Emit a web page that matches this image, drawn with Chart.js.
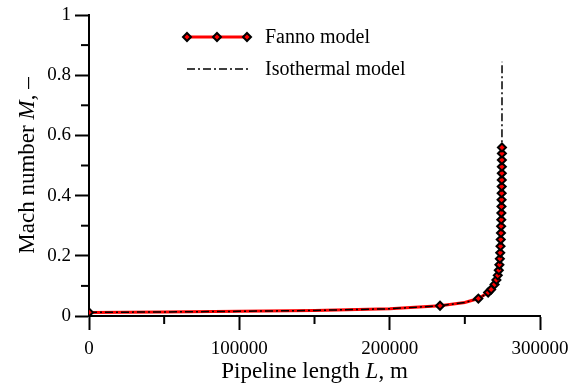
<!DOCTYPE html>
<html>
<head>
<meta charset="utf-8">
<script src="https://cdn.jsdelivr.net/npm/chart.js@4/dist/chart.umd.min.js"></script>
<style>
    html, body { margin: 0; padding: 0; background: #fff; }
</style>
</head>
<body>
<canvas id="chart" width="571" height="392"></canvas>
<script>
// Datos: longitud L (m) y numero de Mach M
const fannoLineL = [0, 50000, 100000, 150000, 200000, 233500, 250000, 259000, 265500, 267500, 269800, 271000, 271900, 272600, 273000, 273300, 273550, 273750, 273900, 274050, 274150, 274250, 274320, 274390, 274450, 274500, 274540, 274580, 274610, 274640, 274660, 274680, 274700];
const fannoLineM = [0.012, 0.0135, 0.0155, 0.0185, 0.024, 0.034, 0.045, 0.058, 0.078, 0.088, 0.105, 0.12, 0.135, 0.152, 0.17, 0.19, 0.21, 0.232, 0.254, 0.276, 0.298, 0.32, 0.342, 0.364, 0.386, 0.408, 0.43, 0.452, 0.474, 0.496, 0.518, 0.54, 0.56];
const fannoPointL = [0, 233500, 259000, 265500, 267500, 269800, 271000, 271900, 272600, 273000, 273300, 273550, 273750, 273900, 274050, 274150, 274250, 274320, 274390, 274450, 274500, 274540, 274580, 274610, 274640, 274660, 274680, 274700];
const fannoPointM = [0.012, 0.034, 0.058, 0.078, 0.088, 0.105, 0.12, 0.135, 0.152, 0.17, 0.19, 0.21, 0.232, 0.254, 0.276, 0.298, 0.32, 0.342, 0.364, 0.386, 0.408, 0.43, 0.452, 0.474, 0.496, 0.518, 0.54, 0.56];
const isoL = [0, 50000, 100000, 150000, 200000, 233500, 250000, 259000, 264000, 267500, 270000, 271800, 273000, 273800, 274300, 274550, 274700, 274750];
const isoM = [0.012, 0.0135, 0.0155, 0.0185, 0.024, 0.034, 0.045, 0.058, 0.072, 0.088, 0.108, 0.135, 0.17, 0.22, 0.3, 0.42, 0.6, 0.845];

// Marcas de los ejes
const xTicks = [0, 100000, 200000, 300000];
const xMinor = [50000, 150000, 250000];
const yTicks = [0, 0.2, 0.4, 0.6, 0.8, 1];
const yTickLabels = ['0', '0.2', '0.4', '0.6', '0.8', '1'];
const yMinor = [0.1, 0.3, 0.5, 0.7, 0.9];
const legendLabels = ['Fanno model', 'Isothermal model'];

const FONT = '"Liberation Serif", "Times New Roman", serif';
const toXY = (xs, ys) => xs.map((v, i) => ({ x: v, y: ys[i] }));

// Dibuja un rombo como el marcador de la serie Fanno
const diamond = (ctx, x, y, r) => {
    ctx.beginPath();
    ctx.moveTo(x, y - r);
    ctx.lineTo(x + r, y);
    ctx.lineTo(x, y + r);
    ctx.lineTo(x - r, y);
    ctx.closePath();
    ctx.fillStyle = '#ff0000';
    ctx.fill();
    ctx.lineWidth = 2;
    ctx.strokeStyle = '#000';
    ctx.stroke();
};

// Dibuja texto con partes en cursiva
const drawParts = (ctx, parts, size) => {
    const widths = parts.map(([t, it]) => {
        ctx.font = `${it ? 'italic ' : ''}${size}px ${FONT}`;
        return ctx.measureText(t).width;
    });
    const total = widths.reduce((a, b) => a + b, 0);
    let pos = -total / 2;
    parts.forEach(([t, it], i) => {
        ctx.font = `${it ? 'italic ' : ''}${size}px ${FONT}`;
        ctx.fillText(t, pos, 0);
        pos += widths[i];
    });
};

// Plugin: marcas menores, titulos de ejes y leyenda
const extras = {
    id: 'extras',
    afterDraw(chart) {
        const { ctx, scales: { x, y } } = chart;
        ctx.save();
        ctx.strokeStyle = '#000';
        ctx.lineWidth = 2;
        xMinor.forEach((v) => {
            const px = x.getPixelForValue(v);
            ctx.beginPath();
            ctx.moveTo(px, y.bottom);
            ctx.lineTo(px, y.bottom + 8);
            ctx.stroke();
        });
        yMinor.forEach((v) => {
            const py = y.getPixelForValue(v);
            ctx.beginPath();
            ctx.moveTo(x.left, py);
            ctx.lineTo(x.left - 8, py);
            ctx.stroke();
        });

        // Titulos
        ctx.fillStyle = '#000';
        ctx.textAlign = 'left';
        ctx.textBaseline = 'alphabetic';
        ctx.save();
        ctx.translate((x.left + x.right) / 2, 378);
        drawParts(ctx, [['Pipeline length ', false], ['L', true], [', m', false]], 23);
        ctx.restore();
        ctx.save();
        ctx.translate(34, (y.top + y.bottom) / 2);
        ctx.rotate(-Math.PI / 2);
        drawParts(ctx, [['Mach number ', false], ['M', true], [', \u2013', false]], 23);
        ctx.restore();

        // Leyenda
        ctx.lineWidth = 3;
        ctx.strokeStyle = '#ff0000';
        ctx.beginPath();
        ctx.moveTo(187, 37);
        ctx.lineTo(247, 37);
        ctx.stroke();
        [187, 217, 247].forEach((px) => diamond(ctx, px, 37, 4));
        ctx.lineWidth = 1.5;
        ctx.strokeStyle = '#000';
        ctx.setLineDash([8, 3, 2, 3]);
        ctx.beginPath();
        ctx.moveTo(187, 69);
        ctx.lineTo(248, 69);
        ctx.stroke();
        ctx.setLineDash([]);
        ctx.fillStyle = '#000';
        ctx.font = `20px ${FONT}`;
        ctx.textBaseline = 'middle';
        ctx.fillText(legendLabels[0], 265, 38);
        ctx.fillText(legendLabels[1], 265, 70);
        ctx.restore();
    }
};

new Chart(document.getElementById('chart'), {
    type: 'scatter',
    data: {
        datasets: [{
            label: legendLabels[0],
            data: toXY(fannoPointL, fannoPointM),
            showLine: false,
            pointStyle: 'rectRot',
            pointRadius: 4,
            pointBorderWidth: 2,
            pointBackgroundColor: '#ff0000',
            pointBorderColor: '#000',
            order: 0
        }, {
            label: legendLabels[1],
            data: toXY(isoL, isoM),
            showLine: true,
            borderColor: '#000',
            borderWidth: 1.5,
            borderDash: [8, 3, 2, 3],
            pointRadius: 0,
            order: 1
        }, {
            label: legendLabels[0],
            data: toXY(fannoLineL, fannoLineM),
            showLine: true,
            borderColor: '#ff0000',
            borderWidth: 3,
            pointRadius: 0,
            order: 2
        }]
    },
    options: {
        responsive: false,
        animation: false,
        layout: { padding: { left: 0, top: 15, right: 31, bottom: 0 } },
        plugins: { legend: { display: false }, tooltip: { enabled: false } },
        scales: {
            x: {
                type: 'linear',
                min: 0,
                max: 300000,
                afterBuildTicks: (s) => { s.ticks = xTicks.map((v) => ({ value: v })); },
                afterFit: (s) => {
                    s.height = 76;
                    s.paddingRight = 0;
                    s.paddingLeft = 0;
                },
                border: { color: '#000', width: 2 },
                grid: { drawOnChartArea: false, tickLength: 14, tickColor: '#000', tickWidth: 2 },
                ticks: {
                    color: '#000',
                    padding: 8,
                    maxRotation: 0,
                    font: { family: FONT, size: 19 },
                    callback: (v) => String(v)
                }
            },
            y: {
                type: 'linear',
                min: 0,
                max: 1,
                afterBuildTicks: (s) => { s.ticks = yTicks.map((v) => ({ value: v })); },
                afterFit: (s) => {
                    s.width = 89;
                    s.paddingTop = 0;
                    s.paddingBottom = 0;
                },
                border: { color: '#000', width: 2 },
                grid: { drawOnChartArea: false, tickLength: 14, tickColor: '#000', tickWidth: 2 },
                ticks: {
                    color: '#000',
                    padding: 4,
                    font: { family: FONT, size: 19 },
                    callback: (v, i) => yTickLabels[i]
                }
            }
        }
    },
    plugins: [extras]
});
</script>
</body>
</html>
